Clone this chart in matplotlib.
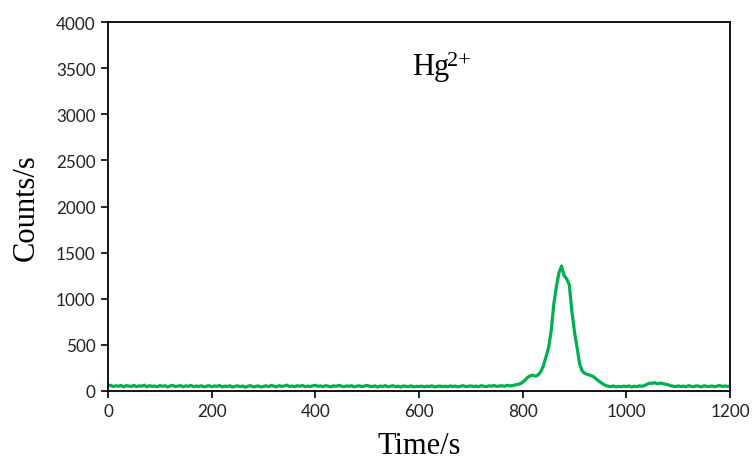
import numpy as np
import matplotlib.pyplot as plt

# time axis (s), one reading every 5 s
time_s = np.arange(0, 1201, 5)

# counts/s
counts = [
    55, 62, 48, 57, 51, 60, 44, 58, 53, 49, 61, 47, 56, 52, 63, 45, 58, 50, 54, 46,
    59, 51, 57, 43, 55, 60, 48, 53, 58, 45, 56, 50, 61, 47, 54, 49, 57, 44, 52, 58,
    46, 55, 50, 59, 44, 53, 48, 57, 42, 51, 56, 47, 54, 40, 52, 58, 45, 50, 55, 43,
    49, 56, 47, 61, 52, 45, 58, 50, 54, 63, 48, 55, 46, 57, 51, 60, 47, 53, 49, 56,
    62, 50, 55, 47, 58, 52, 45, 57, 49, 61, 53, 46, 55, 50, 58, 44, 52, 57, 48, 54,
    60, 51, 47, 56, 43, 54, 49, 58, 45, 52, 57, 46, 53, 42, 55, 50, 48, 56, 44, 51,
    47, 53, 45, 52, 49, 56, 44, 50, 54, 47, 52, 46, 55, 49, 53, 45, 51, 57, 48, 52,
    55, 49, 53, 46, 58, 51, 47, 56, 52, 60, 49, 54, 57, 50, 62, 55, 58, 64, 71, 78,
    95, 120, 150, 165, 172, 160, 175, 210, 275, 370, 470, 650, 940, 1130, 1280, 1355, 1250, 1215, 1150, 860,
    640, 470, 290, 215, 190, 180, 170, 160, 140, 115, 95, 75, 60, 52, 47, 55, 44, 50, 46, 53,
    48, 55, 43, 52, 47, 56, 51, 60, 72, 85, 82, 90, 78, 86, 80, 74, 68, 58, 52, 47,
    55, 49, 53, 45, 58, 50, 47, 56, 52, 44, 57, 51, 48, 55, 46, 53, 60, 49, 54, 50,
    52,
]

x_ticks = [0, 200, 400, 600, 800, 1000, 1200]
y_ticks = [0, 500, 1000, 1500, 2000, 2500, 3000, 3500, 4000]

fig = plt.figure(figsize=(7.56, 4.64), dpi=100)
ax = fig.add_axes([0.1429, 0.1552, 0.8227, 0.7952])

ax.plot(time_s, counts, color='#00B050', linewidth=2.3)

ax.set_xlim(0, 1200)
ax.set_ylim(0, 4000)
ax.set_xticks(x_ticks)
ax.set_yticks(y_ticks)
for lab in ax.get_xticklabels() + ax.get_yticklabels():
    lab.set_fontfamily('Lato')
    lab.set_fontsize(12.3)
    lab.set_color('#222222')
ax.tick_params(direction='out', length=5, width=1.2, color='black', pad=4)
for sp in ax.spines.values():
    sp.set_linewidth(1.3)
    sp.set_color('black')

ax.set_xlabel('Time/s', fontfamily='Liberation Serif', fontsize=22, labelpad=8)
ax.set_ylabel('Counts/s', fontfamily='Liberation Serif', fontsize=22, labelpad=11)

# ion label: "Hg" plus a raised "2+" placed right after it
hg = ax.text(587, 3436, 'Hg', fontfamily='Liberation Serif', fontsize=22,
             va='baseline', ha='left')
ax.annotate('2+', xy=(1.0, 0.55), xycoords=hg, xytext=(-1.5, 0),
            textcoords='offset points', fontfamily='Liberation Serif',
            fontsize=16, va='baseline', ha='left')

fig.savefig('out.png', dpi=100)
